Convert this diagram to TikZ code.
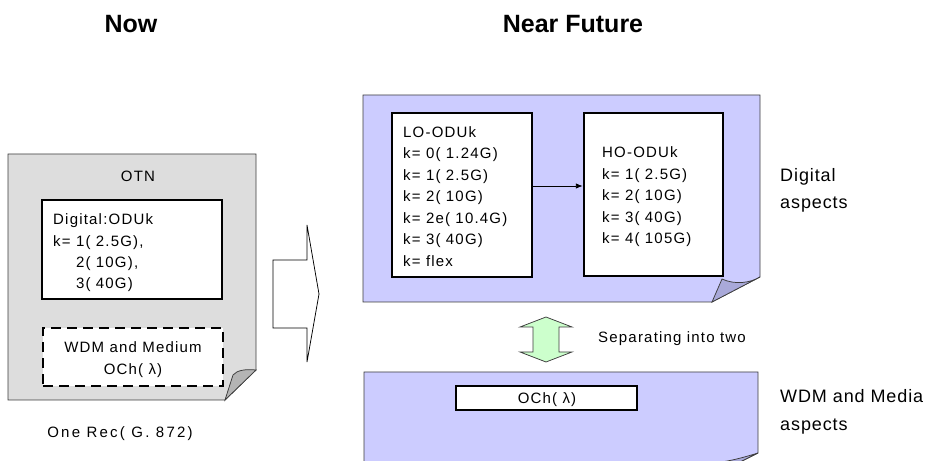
\documentclass[tikz,border=0pt]{standalone}
\usepackage{fontspec}
\setmainfont{Liberation Sans}
\newfontfamily\bodyfont[LetterSpace=8]{Liberation Sans}
\newfontfamily\recfont[LetterSpace=15]{Liberation Sans}
\newfontfamily\sidefont[LetterSpace=5]{Liberation Sans}
\usetikzlibrary{arrows.meta,fit}
\definecolor{pagegray}{HTML}{DDDDDD}
\definecolor{flapgray}{HTML}{B4B4B4}
\definecolor{pageblue}{HTML}{CCCCFF}
\definecolor{flapblue}{HTML}{A9A9D9}
\definecolor{lightgreen}{HTML}{CCFFCC}
\definecolor{edgecol}{HTML}{3C3C3C}
\begin{document}
\begin{tikzpicture}[x=1bp,y=-1bp,
  pageedge/.style={draw=edgecol,line width=0.75bp},
  boxnode/.style={draw=black,line width=2.4bp,fill=white,inner sep=0pt},
  dashbox/.style={draw=black,line width=2.4bp,fill=white,inner sep=0pt,dash pattern=on 10bp off 6bp},
  bodytext/.style={font=\bodyfont\fontsize{15bp}{18bp}\selectfont,inner sep=0pt},
  sidetext/.style={font=\sidefont\fontsize{18bp}{21bp}\selectfont,inner sep=0pt,anchor=base west},
  titletext/.style={font=\bfseries\fontsize{25bp}{30bp}\selectfont,inner sep=0pt,anchor=base},
  connector/.style={draw=black,line width=0.9bp,-{Latex[length=7bp,width=5.5bp]}},
  blockarrow/.style={draw=black,line width=0.75bp,fill=white},
  twinarrow/.style={draw=edgecol,line width=0.75bp,fill=lightgreen}
]
\useasboundingbox (0,0) rectangle (931,461);

% titles
\node[titletext] (now) at (131,32.5) {Now};
\node[titletext] (future) at (573,32.5) {Near Future};

% ---- left page (Now) ----
\path[pageedge,fill=pagegray] (8,154) -- (256,154) -- (256,370) -- (225,400) -- (8,400) -- cycle;
\path[pageedge,fill=flapgray] (225,400) -- (233,375) .. controls (237,370) and (246,369) .. (256,370) -- cycle;
\node[bodytext,anchor=base] (otn) at (138,182) {OTN};
\node[boxnode,fit={(42,200) (222,299)}] (dig) {};
\foreach \s [count=\i from 0] in {Digital:ODUk, {k= 1( 2.5G),}, {\hphantom{k= }2( 10G),}, {\hphantom{k= }3( 40G)}}
  \node[bodytext,anchor=base west] (dig\i) at (53,225+21.3*\i) {\s};
\node[dashbox,fit={(43,328) (223,386)}] (wdmbox) {};
\node[bodytext,anchor=base] (wdm1) at (133,353) {WDM and Medium};
\node[bodytext,anchor=base] (wdm2) at (133,375) {OCh( λ)};
\node[bodytext,font=\recfont\fontsize{15bp}{18bp}\selectfont,anchor=base] (rec) at (120,437) {One Rec( G. 872)};

% ---- big transition arrow ----
\path[blockarrow] (273,260) -- (307,260) -- (307,225) -- (319,294) -- (307,362) -- (307,328) -- (273,328) -- cycle;

% ---- top right page (digital) ----
\path[pageedge,fill=pageblue] (363,95) -- (760,95) -- (760,277) -- (712,302) -- (363,302) -- cycle;
\path[pageedge,fill=flapblue] (712,302) -- (722,279) .. controls (735,285) and (750,283) .. (760,277) -- cycle;
\node[boxnode,fit={(392,113) (532,277)}] (lo) {};
\node[boxnode,fit={(584,113) (723,276)}] (ho) {};
\foreach \s [count=\i from 0] in {LO-ODUk, {k= 0( 1.24G)}, {k= 1( 2.5G)}, {k= 2( 10G)}, {k= 2e( 10.4G)}, {k= 3( 40G)}, {k= flex}}
  \node[bodytext,anchor=base west] (lo\i) at (403,137.5+21.5*\i) {\s};
\foreach \s [count=\i from 0] in {HO-ODUk, {k= 1( 2.5G)}, {k= 2( 10G)}, {k= 3( 40G)}, {k= 4( 105G)}}
  \node[bodytext,anchor=base west] (ho\i) at (602,158+21.5*\i) {\s};
\coordinate (mid) at (558,186);
\draw[connector] (lo.east |- mid) -- (ho.west |- mid);

\node[sidetext] (dig1side) at (780,182) {Digital};
\node[sidetext] (dig2side) at (780,209) {aspects};

% ---- separating arrow ----
\path[twinarrow] (546,317) -- (572,327) -- (559,327) -- (559,352) -- (572,352) -- (546,362) -- (520,352) -- (533,352) -- (533,327) -- (520,327) -- cycle;
\node[bodytext,anchor=base west] (sep) at (598,343) {Separating into two};

% ---- bottom right page (WDM) ----
\begin{scope}
\clip (0,0) rectangle (931,461);
\path[pageedge,fill=pageblue] (364,372) -- (758,372) -- (758,453) -- (700,482) -- (364,482) -- cycle;
\path[pageedge,fill=flapblue] (700,482) -- (712,463) .. controls (728,462) and (745,457) .. (758,453) -- cycle;
\end{scope}
\node[boxnode,fit={(456,386) (637,410)}] (och) {};
\node[bodytext,anchor=base] (ochtext) at (547,403) {OCh( λ)};

\node[sidetext] (wdmside1) at (780,402) {WDM and Media};
\node[sidetext] (wdmside2) at (780,430) {aspects};
\end{tikzpicture}
\end{document}
